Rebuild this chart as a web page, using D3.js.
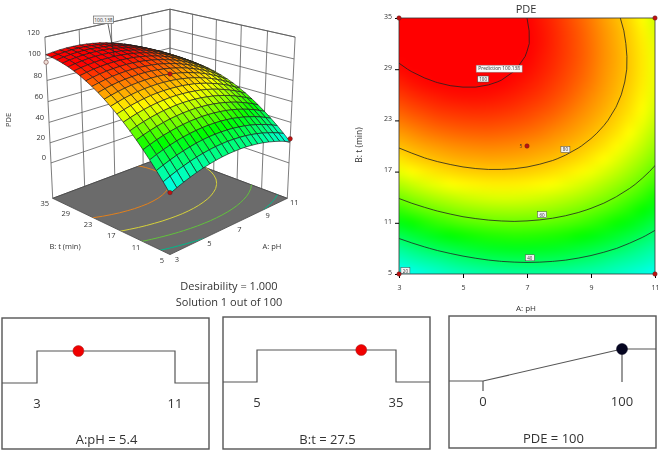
<!DOCTYPE html>
<html>
<head>
<meta charset="utf-8">
<script src="https://cdn.jsdelivr.net/npm/d3@7"></script>
<style>
    body { margin: 0; background: #fff; }
    #heat { position: absolute; left: 399px; top: 18px; width: 256px; height: 256px; }
    #chart { position: absolute; left: 0; top: 0; }
    text { font-family: "Open Sans", sans-serif; fill: #333; }
</style>
</head>
<body>
<canvas id="heat" width="256" height="256"></canvas>
<svg id="chart" width="661" height="456"></svg>
<script>
const phGrid = [3, 3.4, 3.8, 4.2, 4.6, 5, 5.4, 5.8, 6.2, 6.6, 7, 7.4, 7.8, 8.2, 8.6, 9, 9.4, 9.8, 10.2, 10.6, 11];
const tGrid = [5, 6.5, 8, 9.5, 11, 12.5, 14, 15.5, 17, 18.5, 20, 21.5, 23, 24.5, 26, 27.5, 29, 30.5, 32, 33.5, 35];

// PDE, one row per tGrid value, one column per phGrid value
const pde = [
    [19.1, 21.8, 24.2, 26.3, 28.2, 29.8, 31.1, 32.2, 33.0, 33.5, 33.7, 33.7, 33.4, 32.8, 31.9, 30.8, 29.4, 27.7, 25.8, 23.6, 21.1],
    [27.0, 29.6, 31.9, 33.9, 35.7, 37.2, 38.4, 39.4, 40.1, 40.5, 40.7, 40.5, 40.1, 39.5, 38.5, 37.3, 35.8, 34.0, 32.0, 29.7, 27.1],
    [34.5, 37.0, 39.2, 41.2, 42.8, 44.2, 45.4, 46.3, 46.9, 47.2, 47.2, 47.0, 46.5, 45.7, 44.7, 43.4, 41.8, 40.0, 37.8, 35.4, 32.8],
    [41.6, 44.0, 46.1, 48.0, 49.6, 50.9, 51.9, 52.7, 53.2, 53.5, 53.4, 53.1, 52.5, 51.7, 50.5, 49.1, 47.4, 45.5, 43.3, 40.8, 38.0],
    [48.3, 50.6, 52.7, 54.5, 55.9, 57.2, 58.1, 58.8, 59.2, 59.4, 59.2, 58.8, 58.1, 57.2, 56.0, 54.5, 52.7, 50.7, 48.4, 45.8, 42.9],
    [54.7, 56.9, 58.8, 60.5, 61.9, 63.1, 63.9, 64.5, 64.8, 64.9, 64.6, 64.1, 63.4, 62.3, 61.0, 59.4, 57.6, 55.4, 53.0, 50.4, 47.4],
    [60.6, 62.8, 64.6, 66.2, 67.5, 68.6, 69.3, 69.8, 70.1, 70.0, 69.7, 69.1, 68.2, 67.1, 65.7, 64.0, 62.1, 59.8, 57.3, 54.6, 51.5],
    [66.2, 68.2, 70.0, 71.5, 72.7, 73.7, 74.3, 74.8, 74.9, 74.7, 74.3, 73.6, 72.7, 71.5, 70.0, 68.2, 66.1, 63.8, 61.3, 58.4, 55.3],
    [71.4, 73.3, 75.0, 76.4, 77.5, 78.4, 79.0, 79.3, 79.3, 79.1, 78.6, 77.8, 76.8, 75.5, 73.9, 72.0, 69.9, 67.5, 64.8, 61.8, 58.6],
    [76.2, 78.1, 79.7, 81.0, 82.0, 82.8, 83.2, 83.5, 83.4, 83.1, 82.5, 81.6, 80.5, 79.1, 77.4, 75.4, 73.2, 70.7, 67.9, 64.9, 61.6],
    [80.7, 82.4, 83.9, 85.1, 86.1, 86.7, 87.1, 87.3, 87.1, 86.7, 86.0, 85.0, 83.8, 82.3, 80.5, 78.5, 76.2, 73.6, 70.7, 67.6, 64.2],
    [84.7, 86.4, 87.8, 88.9, 89.7, 90.3, 90.6, 90.7, 90.4, 89.9, 89.1, 88.1, 86.7, 85.2, 83.3, 81.1, 78.7, 76.0, 73.1, 69.8, 66.3],
    [88.4, 89.9, 91.2, 92.3, 93.0, 93.5, 93.7, 93.7, 93.3, 92.7, 91.9, 90.7, 89.3, 87.6, 85.6, 83.4, 80.9, 78.1, 75.1, 71.8, 68.2],
    [91.6, 93.1, 94.3, 95.3, 95.9, 96.3, 96.5, 96.3, 95.9, 95.2, 94.2, 93.0, 91.5, 89.7, 87.6, 85.3, 82.7, 79.8, 76.7, 73.3, 69.6],
    [94.6, 95.9, 97.1, 97.9, 98.5, 98.8, 98.8, 98.6, 98.1, 97.3, 96.2, 94.9, 93.3, 91.4, 89.2, 86.8, 84.1, 81.2, 77.9, 74.4, 70.7],
    [97.1, 98.4, 99.4, 100.1, 100.6, 100.8, 100.8, 100.4, 99.8, 98.9, 97.8, 96.4, 94.7, 92.7, 90.5, 88.0, 85.2, 82.1, 78.8, 75.2, 71.3],
    [99.2, 100.4, 101.3, 102.0, 102.4, 102.5, 102.3, 101.9, 101.2, 100.2, 99.0, 97.5, 95.7, 93.6, 91.3, 88.7, 85.8, 82.7, 79.3, 75.6, 71.6],
    [100.9, 102.1, 102.9, 103.5, 103.8, 103.8, 103.5, 103.0, 102.2, 101.2, 99.8, 98.2, 96.3, 94.2, 91.8, 89.1, 86.1, 82.9, 79.3, 75.6, 71.5],
    [102.3, 103.3, 104.1, 104.6, 104.8, 104.7, 104.3, 103.7, 102.9, 101.7, 100.3, 98.6, 96.6, 94.3, 91.8, 89.0, 86.0, 82.6, 79.0, 75.2, 71.0],
    [103.3, 104.2, 104.9, 105.3, 105.4, 105.2, 104.8, 104.1, 103.1, 101.8, 100.3, 98.5, 96.5, 94.1, 91.5, 88.6, 85.5, 82.1, 78.4, 74.4, 70.1],
    [103.9, 104.7, 105.3, 105.6, 105.6, 105.4, 104.8, 104.0, 103.0, 101.6, 100.0, 98.1, 96.0, 93.5, 90.8, 87.9, 84.6, 81.1, 77.3, 73.2, 68.9]
];

const phTicks = [3, 5, 7, 9, 11];
const tTicks = [5, 11, 17, 23, 29, 35];
const zTicks = [0, 20, 40, 60, 80, 100, 120];
const contourLevels = [20, 40, 60, 80, 100];
const floorLevels = [30, 50, 70, 90];
const floorColors = ["#00b98a", "#62c23c", "#d6d23a", "#e2801c"];
const designPoints = [[3, 5, 20], [11, 5, 24], [3, 35, 97], [7, 20, 86]];
const cornerPoints = [[3, 5], [11, 5], [3, 35], [11, 35]];
const contourLabels = [[5.63, 27.85, "100"], [8.2, 19.6, "80"], [7.47, 11.95, "60"], [7.09, 6.9, "40"], [3.2, 5.4, "20"]];
const solution = { ph: 5.4, t: 27.5, pde: 100.138 };

const color = d3.scaleLinear()
    .domain([19, 34, 50, 73, 86, 100])
    .range(["#00ffff", "#00ff99", "#00ff00", "#ffff00", "#ff9000", "#ff0000"])
    .clamp(true);

const svg = d3.select("#chart");
const flat = pde.flat();
const n = phGrid.length;

// slight softening, the reference is a scaled up screenshot
svg.append("filter").attr("id", "soft").append("feGaussianBlur").attr("stdDeviation", 0.3);

// grid index -> data units, d3.contours puts a value at index + 0.5
const idxPh = d3.scaleLinear().domain([0.5, n - 0.5]).range([3, 11]);
const idxT = d3.scaleLinear().domain([0.5, n - 0.5]).range([5, 35]);

// ---------- 3D surface ----------
const aScale = d3.scaleLinear().domain([3, 11]).range([-1, 1]);
const bScale = d3.scaleLinear().domain([5, 35]).range([-1, 1]);
const zScale = d3.scaleLinear().domain([-36, 120]).range([-1, 1]);

const cam = { D: 10.5, S: 899, phi: 0.346, cx: 170, cy: 120.3 };

function project(ph, t, z) {
    const a = aScale(ph), b = bScale(t), zc = zScale(z);
    const h = (a - b) / Math.SQRT2, d = (a + b) / Math.SQRT2;
    const c = Math.cos(cam.phi), s = Math.sin(cam.phi);
    const yc = zc * c + d * s;
    const w = cam.D + d * c - zc * s;
    return [cam.cx + cam.S * h / w, cam.cy - cam.S * yc / w, w];
}

const line = d3.line();
const g3 = svg.append("g");
const zMin = zScale.domain()[0], zMax = zScale.domain()[1];

function wall(pts) {
    g3.append("path").attr("d", line(pts)).attr("fill", "none").attr("stroke", "#5a5a5a").attr("stroke-width", 0.8);
}

// back walls
zTicks.concat([zMin, zMax]).forEach(z => {
    wall([project(3, 35, z), project(11, 35, z), project(11, 5, z)]);
});
phTicks.forEach(p => wall([project(p, 35, zMin), project(p, 35, zMax)]));
tTicks.forEach(t => wall([project(11, t, zMin), project(11, t, zMax)]));

// floor
const floorCorners = [[3, 35], [3, 5], [11, 5], [11, 35]].map(c => project(c[0], c[1], zMin).slice(0, 2));
g3.append("path").attr("d", line(floorCorners) + "Z").attr("fill", "#6b6b6b").attr("stroke", "#444").attr("stroke-width", 0.8);
svg.append("clipPath").attr("id", "floorClip").append("path").attr("d", line(floorCorners) + "Z");

const floorPath = d3.geoPath(d3.geoTransform({
    point: function (x, y) {
        const p = project(idxPh(x), idxT(y), zMin);
        this.stream.point(p[0], p[1]);
    }
}));
g3.append("g").attr("clip-path", "url(#floorClip)")
    .selectAll("path")
    .data(d3.contours().size([n, n]).thresholds(floorLevels)(flat))
    .join("path")
    .attr("d", floorPath)
    .attr("fill", "none")
    .attr("stroke", (d, i) => floorColors[i])
    .attr("stroke-width", 1);

// floor ticks
phTicks.forEach(p => {
    const q = project(p, 5, zMin);
    g3.append("text").attr("x", q[0] + 7).attr("y", q[1] + 7).attr("text-anchor", "middle").attr("font-size", 7.5).text(p);
});
tTicks.forEach(t => {
    const q = project(3, t, zMin);
    g3.append("text").attr("x", q[0] - 8).attr("y", q[1] + 8).attr("text-anchor", "middle").attr("font-size", 7.5).text(t);
});
zTicks.forEach(z => {
    const q = project(3, 35, z);
    g3.append("text").attr("x", q[0] - 5).attr("y", q[1] - 2.5).attr("text-anchor", "end").attr("font-size", 7.5).text(z);
});

g3.append("text").attr("x", 65).attr("y", 249).attr("text-anchor", "middle").attr("font-size", 7.5).text("B: t (min)");
g3.append("text").attr("x", 272).attr("y", 249).attr("text-anchor", "middle").attr("font-size", 7.5).text("A: pH");
g3.append("text").attr("transform", "translate(11,120) rotate(-90)").attr("text-anchor", "middle").attr("font-size", 7.5).text("PDE");

// surface quads, painted back to front
const quads = [];
for (let j = 0; j < n - 1; j++) {
    for (let i = 0; i < n - 1; i++) {
        const corners = [[i, j], [i + 1, j], [i + 1, j + 1], [i, j + 1]]
            .map(c => project(phGrid[c[0]], tGrid[c[1]], pde[c[1]][c[0]]));
        quads.push({
            pts: corners.map(c => c.slice(0, 2)),
            depth: d3.mean(corners, c => c[2]),
            value: (pde[j][i] + pde[j][i + 1] + pde[j + 1][i + 1] + pde[j + 1][i]) / 4
        });
    }
}
quads.sort((p, q) => q.depth - p.depth);

g3.append("g").attr("filter", "url(#soft)").selectAll("path")
    .data(quads)
    .join("path")
    .attr("d", d => line(d.pts) + "Z")
    .attr("fill", d => color(d.value))
    .attr("stroke", "#1a1a1a")
    .attr("stroke-width", 0.65)
    .attr("stroke-linejoin", "round");

// design points and flag
designPoints.forEach(d => {
    const q = project(d[0], d[1], d[2]);
    g3.append("circle").attr("cx", q[0]).attr("cy", q[1]).attr("r", 2.2)
        .attr("fill", d[0] === 3 && d[1] === 35 ? "#f0e0d8" : "#c01010")
        .attr("stroke", "#5a2020").attr("stroke-width", 0.5);
});

const flagPoint = project(solution.ph, solution.t, solution.pde);
g3.append("line").attr("x1", 108).attr("y1", 24).attr("x2", flagPoint[0]).attr("y2", flagPoint[1])
    .attr("stroke", "#222").attr("stroke-width", 0.7);
g3.append("rect").attr("x", 93.5).attr("y", 16).attr("width", 20).attr("height", 7.5)
    .attr("fill", "#f4f4f4").attr("stroke", "#555").attr("stroke-width", 0.6);
g3.append("text").attr("x", 103.5).attr("y", 22).attr("text-anchor", "middle").attr("font-size", 5).text(solution.pde);

// ---------- contour plot ----------
const plot = { left: 399, right: 655, top: 18, bottom: 274 };
const x = d3.scaleLinear().domain([3, 11]).range([plot.left, plot.right]);
const y = d3.scaleLinear().domain([5, 35]).range([plot.bottom, plot.top]);

// colours go on a small canvas, the browser smooths it when it is scaled up
const tiny = document.createElement("canvas");
tiny.width = n; tiny.height = n;
const tinyCtx = tiny.getContext("2d");
const img = tinyCtx.createImageData(n, n);
pde.forEach((row, j) => row.forEach((v, i) => {
    const c = d3.rgb(color(v));
    const k = ((n - 1 - j) * n + i) * 4;
    img.data[k] = c.r; img.data[k + 1] = c.g; img.data[k + 2] = c.b; img.data[k + 3] = 255;
}));
tinyCtx.putImageData(img, 0, 0);
const heatCtx = document.getElementById("heat").getContext("2d");
heatCtx.imageSmoothingEnabled = true;
heatCtx.imageSmoothingQuality = "high";
heatCtx.drawImage(tiny, 0.5, 0.5, n - 1, n - 1, 0, 0, 256, 256);

svg.append("clipPath").attr("id", "plotClip").append("rect")
    .attr("x", plot.left).attr("y", plot.top)
    .attr("width", plot.right - plot.left).attr("height", plot.bottom - plot.top);

const contourPath = d3.geoPath(d3.geoTransform({
    point: function (px, py) {
        this.stream.point(x(idxPh(px)), y(idxT(py)));
    }
}));
svg.append("g").attr("clip-path", "url(#plotClip)")
    .selectAll("path")
    .data(d3.contours().size([n, n]).thresholds(contourLevels)(flat))
    .join("path")
    .attr("d", contourPath)
    .attr("fill", "none")
    .attr("stroke", "#222")
    .attr("stroke-width", 0.8);

svg.append("rect").attr("x", plot.left).attr("y", plot.top)
    .attr("width", plot.right - plot.left).attr("height", plot.bottom - plot.top)
    .attr("fill", "none").attr("stroke", "#333").attr("stroke-width", 0.8);

const xAxis = svg.append("g").attr("transform", `translate(0,${plot.bottom})`)
    .call(d3.axisBottom(x).tickValues(phTicks).tickSize(4).tickPadding(7).tickSizeOuter(0));
const yAxis = svg.append("g").attr("transform", `translate(${plot.left},0)`)
    .call(d3.axisLeft(y).tickValues(tTicks).tickSize(4).tickSizeOuter(0));
[xAxis, yAxis].forEach(a => {
    a.select(".domain").remove();
    a.selectAll("text").attr("font-family", null).attr("font-size", 7);
});
yAxis.selectAll("text").attr("dy", "0.05em");

svg.append("text").attr("x", 526).attr("y", 13).attr("text-anchor", "middle").attr("font-size", 11).text("PDE");
svg.append("text").attr("x", 526).attr("y", 311).attr("text-anchor", "middle").attr("font-size", 8).text("A: pH");
svg.append("text").attr("transform", "translate(362,145) rotate(-90)").attr("text-anchor", "middle").attr("font-size", 8.5).text("B: t (min)");

contourLabels.forEach(d => {
    const w = d[2].length > 2 ? 11 : 9;
    svg.append("rect").attr("x", x(d[0]) - w / 2).attr("y", y(d[1]) - 3)
        .attr("width", w).attr("height", 6).attr("fill", "#f4f4f4").attr("stroke", "#444").attr("stroke-width", 0.5);
    svg.append("text").attr("x", x(d[0])).attr("y", y(d[1]) + 2).attr("text-anchor", "middle").attr("font-size", 4.5).text(d[2]);
});

svg.append("rect").attr("x", x(6.13) - 23).attr("y", y(29.06) - 3.5)
    .attr("width", 46).attr("height", 7).attr("fill", "#fafafa").attr("stroke", "#888").attr("stroke-width", 0.5);
svg.append("text").attr("x", x(6.13)).attr("y", y(29.06) + 1.8).attr("text-anchor", "middle").attr("font-size", 4.8)
    .text("Prediction  " + solution.pde);

cornerPoints.forEach(d => {
    svg.append("circle").attr("cx", x(d[0])).attr("cy", y(d[1])).attr("r", 2.2)
        .attr("fill", "#c01010").attr("stroke", "#5a2020").attr("stroke-width", 0.5);
});
svg.append("circle").attr("cx", x(7)).attr("cy", y(20)).attr("r", 2.2)
    .attr("fill", "#c01010").attr("stroke", "#5a2020").attr("stroke-width", 0.5);
svg.append("text").attr("x", x(7) - 6).attr("y", y(20) + 2).attr("text-anchor", "middle").attr("font-size", 5).text("5");

// ---------- desirability panels ----------
svg.append("text").attr("x", 229).attr("y", 290).attr("text-anchor", "middle").attr("font-size", 11).text("Desirability = 1.000");
svg.append("text").attr("x", 229).attr("y", 306).attr("text-anchor", "middle").attr("font-size", 11).text("Solution 1 out of 100");

function panel(box, domain, range, yLow, yHigh, value, title, kind) {
    const g = svg.append("g");
    const sx = d3.scaleLinear().domain(domain).range(range);
    g.append("rect").attr("x", box[0]).attr("y", box[1]).attr("width", box[2] - box[0]).attr("height", box[3] - box[1])
        .attr("fill", "none").attr("stroke", "#555").attr("stroke-width", 1.4);

    const pts = kind === "step"
        ? [[box[0], yLow], [sx(domain[0]), yLow], [sx(domain[0]), yHigh], [sx(domain[1]), yHigh], [sx(domain[1]), yLow], [box[2], yLow]]
        : [[box[0], yLow], [sx(domain[0]), yLow], [sx(domain[1]), yHigh], [box[2], yHigh]];
    g.append("path").attr("d", line(pts)).attr("fill", "none").attr("stroke", "#555").attr("stroke-width", 1.2);

    if (kind !== "step") {
        g.append("line").attr("x1", sx(domain[0])).attr("x2", sx(domain[0])).attr("y1", yLow).attr("y2", yLow + 10).attr("stroke", "#555").attr("stroke-width", 1.2);
        g.append("line").attr("x1", sx(domain[1])).attr("x2", sx(domain[1])).attr("y1", yHigh).attr("y2", yLow + 1).attr("stroke", "#555").attr("stroke-width", 1.2);
    }
    g.append("circle").attr("cx", sx(value)).attr("cy", yHigh).attr("r", 5.5)
        .attr("fill", kind === "step" ? "#f00000" : "#050520")
        .attr("stroke", kind === "step" ? "#a02020" : "#050520").attr("stroke-width", 0.5);

    domain.forEach(d => {
        g.append("text").attr("x", sx(d)).attr("y", yLow + 25).attr("text-anchor", "middle").attr("font-size", 13).text(d);
    });
    g.append("text").attr("x", (box[0] + box[2]) / 2 + 1).attr("y", box[3] - 5).attr("text-anchor", "middle").attr("font-size", 13).text(title);
}

panel([2, 318, 209, 449], [3, 11], [37, 175], 383, 351, solution.ph, "A:pH = " + solution.ph, "step");
panel([223, 317, 430, 449], [5, 35], [257, 396], 382, 350, solution.t, "B:t = " + solution.t, "step");
panel([449, 316, 656, 448], [0, 100], [483, 622], 381, 349, 100, "PDE = 100", "ramp");
</script>
</body>
</html>
